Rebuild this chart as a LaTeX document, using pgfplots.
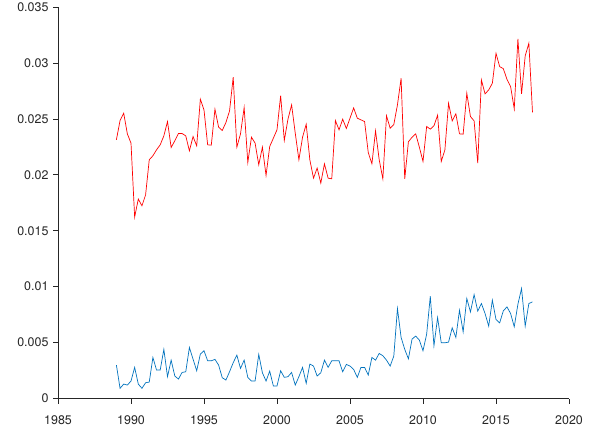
\documentclass[border=0pt]{standalone}
\usepackage{pgfplots}
\pgfplotsset{compat=1.18}
\usepackage{pgfplotstable}
\usepackage{fontspec}
\setmainfont{TeX Gyre Heros}
\definecolor{mblue}{rgb}{0,0.447,0.741}
\definecolor{axgray}{rgb}{0.15,0.15,0.15}

\pgfplotstableread{
x y
1989.00 0.02313
1989.25 0.02485
1989.50 0.02551
1989.75 0.02366
1990.00 0.02283
1990.25 0.01622
1990.50 0.01783
1990.75 0.01723
1991.00 0.01821
1991.25 0.02134
1991.50 0.02170
1991.75 0.02223
1992.00 0.02268
1992.25 0.02348
1992.50 0.02476
1992.75 0.02244
1993.00 0.02304
1993.25 0.02369
1993.50 0.02369
1993.75 0.02348
1994.00 0.02214
1994.25 0.02342
1994.50 0.02259
1994.75 0.02676
1995.00 0.02580
1995.25 0.02268
1995.50 0.02265
1995.75 0.02586
1996.00 0.02426
1996.25 0.02396
1996.50 0.02467
1996.75 0.02571
1997.00 0.02872
1997.25 0.02247
1997.50 0.02366
1997.75 0.02601
1998.00 0.02110
1998.25 0.02336
1998.50 0.02283
1998.75 0.02089
1999.00 0.02247
1999.25 0.01994
1999.50 0.02253
1999.75 0.02327
2000.00 0.02402
2000.25 0.02708
2000.50 0.02307
2000.75 0.02497
2001.00 0.02625
2001.25 0.02372
2001.50 0.02134
2001.75 0.02336
2002.00 0.02452
2002.25 0.02134
2002.50 0.01970
2002.75 0.02060
2003.00 0.01926
2003.25 0.02098
2003.50 0.01970
2003.75 0.01964
2004.00 0.02485
2004.25 0.02402
2004.50 0.02497
2004.75 0.02414
2005.00 0.02506
2005.25 0.02598
2005.50 0.02506
2005.75 0.02491
2006.00 0.02476
2006.25 0.02199
2006.50 0.02098
2006.75 0.02393
2007.00 0.02134
2007.25 0.01964
2007.50 0.02527
2007.75 0.02417
2008.00 0.02449
2008.25 0.02625
2008.50 0.02863
2008.75 0.01964
2009.00 0.02295
2009.25 0.02336
2009.50 0.02366
2009.75 0.02247
2010.00 0.02119
2010.25 0.02432
2010.50 0.02408
2010.75 0.02438
2011.00 0.02533
2011.25 0.02119
2011.50 0.02223
2011.75 0.02640
2012.00 0.02482
2012.25 0.02545
2012.50 0.02366
2012.75 0.02363
2013.00 0.02729
2013.25 0.02521
2013.50 0.02482
2013.75 0.02104
2014.00 0.02848
2014.25 0.02723
2014.50 0.02759
2014.75 0.02818
2015.00 0.03086
2015.25 0.02967
2015.50 0.02949
2015.75 0.02854
2016.00 0.02789
2016.25 0.02589
2016.50 0.03214
2016.75 0.02723
2017.00 0.03063
2017.25 0.03176
2017.50 0.02557
}\redtable

\pgfplotstableread{
x y
1989.00 0.00299
1989.25 0.00091
1989.50 0.00129
1989.75 0.00120
1990.00 0.00156
1990.25 0.00278
1990.50 0.00129
1990.75 0.00091
1991.00 0.00141
1991.25 0.00147
1991.50 0.00367
1991.75 0.00254
1992.00 0.00254
1992.25 0.00439
1992.50 0.00195
1992.75 0.00343
1993.00 0.00201
1993.25 0.00174
1993.50 0.00233
1993.75 0.00239
1994.00 0.00456
1994.25 0.00352
1994.50 0.00248
1994.75 0.00397
1995.00 0.00427
1995.25 0.00337
1995.50 0.00337
1995.75 0.00350
1996.00 0.00299
1996.25 0.00186
1996.50 0.00165
1996.75 0.00239
1997.00 0.00320
1997.25 0.00388
1997.50 0.00269
1997.75 0.00343
1998.00 0.00189
1998.25 0.00156
1998.50 0.00156
1998.75 0.00394
1999.00 0.00230
1999.25 0.00156
1999.50 0.00245
1999.75 0.00112
2000.00 0.00112
2000.25 0.00248
2000.50 0.00189
2000.75 0.00195
2001.00 0.00233
2001.25 0.00120
2001.50 0.00195
2001.75 0.00278
2002.00 0.00136
2002.25 0.00308
2002.50 0.00290
2002.75 0.00201
2003.00 0.00230
2003.25 0.00343
2003.50 0.00278
2003.75 0.00337
2004.00 0.00337
2004.25 0.00337
2004.50 0.00239
2004.75 0.00305
2005.00 0.00290
2005.25 0.00260
2005.50 0.00189
2005.75 0.00278
2006.00 0.00278
2006.25 0.00210
2006.50 0.00367
2006.75 0.00343
2007.00 0.00403
2007.25 0.00382
2007.50 0.00343
2007.75 0.00290
2008.00 0.00379
2008.25 0.00804
2008.50 0.00546
2008.75 0.00439
2009.00 0.00355
2009.25 0.00531
2009.50 0.00558
2009.75 0.00522
2010.00 0.00427
2010.25 0.00575
2010.50 0.00914
2010.75 0.00471
2011.00 0.00724
2011.25 0.00498
2011.50 0.00498
2011.75 0.00504
2012.00 0.00632
2012.25 0.00546
2012.50 0.00789
2012.75 0.00596
2013.00 0.00894
2013.25 0.00774
2013.50 0.00929
2013.75 0.00781
2014.00 0.00849
2014.25 0.00760
2014.50 0.00647
2014.75 0.00879
2015.00 0.00706
2015.25 0.00676
2015.50 0.00783
2015.75 0.00819
2016.00 0.00760
2016.25 0.00641
2016.50 0.00843
2016.75 0.00983
2017.00 0.00647
2017.25 0.00849
2017.50 0.00864
}\bluetable

\begin{document}
\begin{tikzpicture}
\useasboundingbox (0,0) rectangle (595bp,431bp);
\begin{axis}[
  at={(58bp,32.5bp)}, anchor=south west,
  scale only axis, width=511bp, height=391.5bp,
  xmin=1985, xmax=2020, ymin=0, ymax=0.035,
  axis x line*=bottom, axis y line*=left,
  axis line style={axgray, line width=0.6pt, -},
  tick align=outside, major tick length=5bp,
  tick style={axgray, line width=0.6pt},
  xtick={1985,1990,...,2020},
  ytick={0,0.005,0.01,0.015,0.02,0.025,0.03,0.035},
  yticklabels={0,0.005,0.01,0.015,0.02,0.025,0.03,0.035},
  scaled y ticks=false,
  xticklabel style={/pgf/number format/1000 sep={}, yshift=-9bp},
  yticklabel style={xshift=-1bp},
  /pgf/number format/assume math mode=true,
  tick label style={font=\fontsize{12.5}{14}\selectfont, text=axgray},
  clip=false,
]
\addplot[red, line width=0.7pt] table[x=x,y=y] {\redtable};
\addplot[mblue, line width=0.7pt] table[x=x,y=y] {\bluetable};
\end{axis}
\end{tikzpicture}
\end{document}
